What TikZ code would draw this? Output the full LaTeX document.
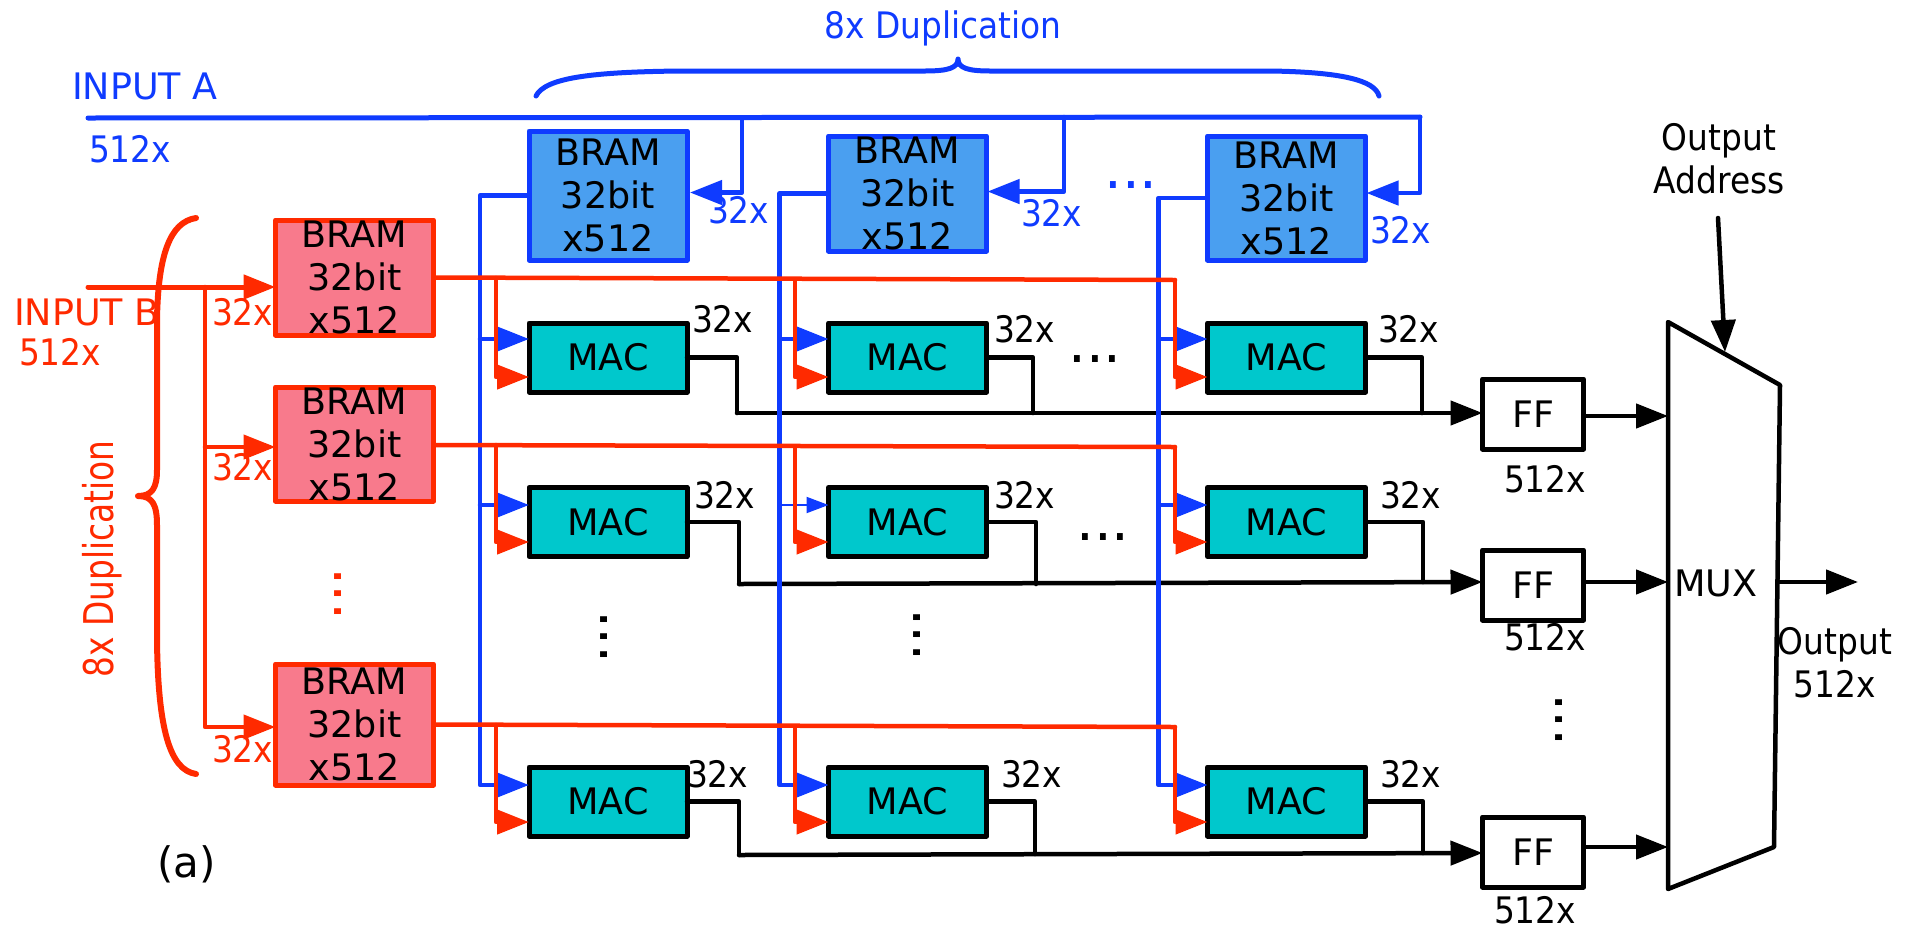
\documentclass[tikz,border=0pt]{standalone}
\usepackage{fontspec}
\setmainfont{DejaVu Sans}
\newfontfamily\condfont[FakeStretch=0.9]{DejaVu Sans}
\newfontfamily\vertfont[FakeStretch=0.8]{DejaVu Sans}
\usetikzlibrary{arrows.meta}
\definecolor{cblue}{HTML}{0F3BFF}
\definecolor{cred}{HTML}{FF2A00}
\definecolor{fblue}{HTML}{4A9FF0}
\definecolor{fred}{HTML}{F87A8C}
\definecolor{fmac}{HTML}{00C8CC}
\tikzset{
  box/.style={draw,line width=5pt,line join=round,inner sep=0pt,outer sep=0pt,align=center,
    minimum width=158pt,font=\fontsize{36.5}{43}\selectfont},
  bluebram/.style={box,draw=cblue,fill=fblue},
  redbram/.style={box,draw=cred,fill=fred},
  macbox/.style={box,draw=black,fill=fmac,minimum height=69pt},
  ffbox/.style={box,draw=black,fill=white,minimum width=101pt,minimum height=70pt},
  lab/.style={inner sep=0pt,outer sep=0pt,anchor=base west,font=\condfont\fontsize{36.5}{43}\selectfont},
  widelab/.style={lab,font=\fontsize{36.5}{43}\selectfont},
  ctr/.style={lab,anchor=base,align=center},
  wire/.style={line width=4.5pt,line cap=round,line join=round},
  arr/.style={-{Triangle[length=32pt,width=24pt]}},
  bw/.style={wire,draw=cblue},
  rw/.style={wire,draw=cred},
  kw/.style={wire,draw=black},
  hd/.style={inner sep=0pt,outer sep=0pt,anchor=base,font=\fontsize{56}{60}\selectfont},
  vd/.style={hd,rotate=90},
}
\begin{document}
\begin{tikzpicture}[x=1pt,y=-1pt]
\useasboundingbox (0,0) rectangle (1913,930);
% boxes
\node[bluebram,minimum height=129pt] (b1) at (608,195.5) {BRAM\\32bit\\x512};
\node[bluebram,minimum height=115pt] (b2) at (907.5,193.5) {BRAM\\32bit\\x512};
\node[bluebram,minimum height=124pt] (b3) at (1286.5,198) {BRAM\\32bit\\x512};
\node[redbram,minimum height=115pt] (r1) at (354.5,277.5) {BRAM\\32bit\\x512};
\node[redbram,minimum height=114pt] (r2) at (354.5,444) {BRAM\\32bit\\x512};
\node[redbram,minimum height=121pt] (r3) at (354.5,724.5) {BRAM\\32bit\\x512};
\foreach \c/\x in {1/608,2/907.5,3/1286.5}
  \foreach \r/\y in {1/357.5,2/522,3/801.5}
    \node[macbox] (m\r\c) at (\x,\y) {MAC};
\node[ffbox] (f1) at (1533,414) {FF};
\node[ffbox] (f2) at (1533,585) {FF};
\node[ffbox] (f3) at (1533,852) {FF};
% mux
\coordinate (muxa) at (1668,322);
\coordinate (muxb) at (1780,385);
\coordinate (muxc) at (1774,847);
\coordinate (muxd) at (1668,889);
\draw[kw] (muxa) -- (muxb) -- (muxc) -- (muxd) -- cycle;
% black outputs
\coordinate (k11) at (737,413); \coordinate (k12) at (1033,413); \coordinate (k13) at (1422,413);
\coordinate (k21) at (739,584); \coordinate (k22) at (1036,584); \coordinate (k23) at (1423,582);
\coordinate (k31) at (739,855); \coordinate (k32) at (1035,854); \coordinate (k33) at (1423,853);
\foreach \r in {1,2,3}\foreach \c in {1,2,3}
  \draw[kw] (m\r\c.east) -| (k\r\c);
\draw[kw,arr] (k11) -- ([yshift=1pt]f1.west);
\draw[kw,arr] (k21) -- ([yshift=3pt]f2.west);
\draw[kw,arr] (k31) -- ([yshift=-1pt]f3.west);
\draw[kw,arr] ([yshift=-2pt]f1.east) -- ([yshift=-2pt]f1.east -| muxa);
\draw[kw,arr] ([yshift=3pt]f2.east) -- ([yshift=3pt]f2.east -| muxa);
\draw[kw,arr] ([yshift=5pt]f3.east) -- ([yshift=5pt]f3.east -| muxa);
\coordinate (muxo) at (1779,582);
\coordinate (oute) at (1858,582);
\draw[kw,arr] (muxo) -- (oute);
\coordinate (adr) at (1718,218);
\coordinate (adt) at (1725,352);
\draw[kw,arr] (adr) -- (adt);
% blue input
\coordinate (ina) at (88,118);
\coordinate (inae) at (1420,117);
\coordinate (bt1) at (742,118);
\coordinate (bt2) at (1064,117);
\draw[bw,line width=5pt] (ina) -- (inae);
\draw[bw,arr] (inae) |- ([xshift=1pt,yshift=5pt]b3.east);
\draw[bw,arr] (bt1) |- ([xshift=3pt,yshift=3pt]b1.east);
\draw[bw,arr] (bt2) |- ([xshift=1pt,yshift=2pt]b2.east);
% blue distribution
\draw[bw,arr] (b1.west) -| ([xshift=-49pt,yshift=16.5pt]m31.west) -- ([yshift=16.5pt]m31.west);
\draw[bw,arr] (b2.west) -| ([xshift=-49pt,yshift=16.5pt]m32.west) -- ([yshift=16.5pt]m32.west);
\draw[bw,arr] (b3.west) -| ([xshift=-49pt,yshift=16.5pt]m33.west) -- ([yshift=16.5pt]m33.west);
\draw[bw,arr] ([xshift=-49pt,yshift=18.5pt]m11.west) -- ([yshift=18.5pt]m11.west);
\draw[bw,arr] ([xshift=-49pt,yshift=18.5pt]m12.west) -- ([yshift=18.5pt]m12.west);
\draw[bw,arr] ([xshift=-49pt,yshift=18.5pt]m13.west) -- ([yshift=18.5pt]m13.west);
\draw[bw,arr] ([xshift=-49pt,yshift=17pt]m21.west) -- ([yshift=17pt]m21.west);
\draw[bw,line width=2pt,-{Triangle[length=22pt,width=16pt]}] ([xshift=-49pt,yshift=17pt]m22.west) -- ([yshift=17pt]m22.west);
\draw[bw,arr] ([xshift=-49pt,yshift=17pt]m23.west) -- ([yshift=17pt]m23.west);
% red input
\coordinate (inb) at (88,287);
\coordinate (tr1) at (205,287);
\coordinate (tr2) at (205,447);
\draw[rw,line width=5pt,arr] (inb) -- ([yshift=-9.5pt]r1.west);
\draw[rw,arr] (tr1) |- ([yshift=-2.5pt]r3.west);
\draw[rw,arr] (tr2) -- ([yshift=-3pt]r2.west);
% red distribution
\coordinate (rc11) at (496,278); \coordinate (rc12) at (795,280); \coordinate (rc13) at (1175,280);
\coordinate (rc21) at (496,445); \coordinate (rc22) at (795,447); \coordinate (rc23) at (1175,447);
\coordinate (rc31) at (496,725); \coordinate (rc32) at (795,727); \coordinate (rc33) at (1175,727);
\draw[rw] (r1.east) -- (rc13);
\draw[rw] ([yshift=-1pt]r2.east) -- (rc23);
\draw[rw] (r3.east) -- (rc33);
\foreach \c in {1,2,3}{
  \draw[rw,arr] (rc1\c) |- ([yshift=-19.5pt]m1\c.west);
  \draw[rw,arr] (rc2\c) |- ([yshift=-20pt]m2\c.west);
  \draw[rw,arr] (rc3\c) |- ([yshift=-20.5pt]m3\c.west);
}
% braces
\draw[cred,line width=6pt,line cap=round,line join=round]
  (196,218) .. controls (170,222) and (158,255) .. (157,320) -- (157,470)
  .. controls (157,488) and (152,496) .. (138,496)
  .. controls (152,496) and (157,504) .. (157,525) -- (157,640)
  .. controls (158,730) and (170,770) .. (196,774);
\draw[cblue,line width=5pt,line cap=round,line join=round]
  (536,96) .. controls (545,78) and (590,72) .. (680,71) -- (925,71)
  .. controls (948,71) and (958,68) .. (958,59)
  .. controls (958,68) and (968,71) .. (990,71) -- (1270,71)
  .. controls (1340,72) and (1375,80) .. (1379,96);
% labels
\node[widelab,text=cblue] (ta) at (72,99) {INPUT A};
\node[lab,text=cblue] (ta5) at (89,162) {512x};
\node[widelab,text=cred] (tb) at (14,325) {INPUT B};
\node[lab,text=cred] (tb5) at (19,365) {512x};
\node[ctr,text=cblue] (dupa) at (943,38) {8x Duplication};
\node[inner sep=0pt,outer sep=0pt,anchor=base west,rotate=90,text=cred,font=\vertfont\fontsize{41}{43}\selectfont] (dupb) at (113,677) {8x Duplication};
\node[lab,text=cred] (s1) at (212,325) {32x};
\node[lab,text=cred] (s2) at (212,480) {32x};
\node[lab,text=cred] (s3) at (212,762) {32x};
\node[lab,text=cblue] (u1) at (708,223) {32x};
\node[lab,text=cblue] (u2) at (1021,226) {32x};
\node[lab,text=cblue] (u3) at (1370,243) {32x};
\node[lab] (x11) at (692,332) {32x};
\node[lab] (x12) at (994,342) {32x};
\node[lab] (x13) at (1378,342) {32x};
\node[lab] (x21) at (694,508) {32x};
\node[lab] (x22) at (994,508) {32x};
\node[lab] (x23) at (1380,508) {32x};
\node[lab] (x31) at (687,787) {32x};
\node[lab] (x32) at (1001,787) {32x};
\node[lab] (x33) at (1380,787) {32x};
\node[lab] (y1) at (1504,492) {512x};
\node[lab] (y2) at (1504,650) {512x};
\node[lab] (y3) at (1494,923) {512x};
\node[widelab] (mux) at (1674,596) {MUX};
\node[ctr] (oa) at (1719,193) {Output\\[0pt]Address};
\node[ctr] (ou) at (1835,697) {Output\\[0pt]512x};
\node[lab,font=\fontsize{42}{46}\selectfont] (pa) at (157,877) {(a)};
% dots
\node[vd,text=cred] (d0) at (341,594) {...};
\node[vd] (d1) at (607,637) {...};
\node[vd] (d2) at (920,635) {...};
\node[vd] (d3) at (1562,720) {...};
\node[hd,text=cblue] (d4) at (1131,188) {...};
\node[hd] (d5) at (1095,362) {...};
\node[hd] (d6) at (1103,540) {...};
\end{tikzpicture}
\end{document}
